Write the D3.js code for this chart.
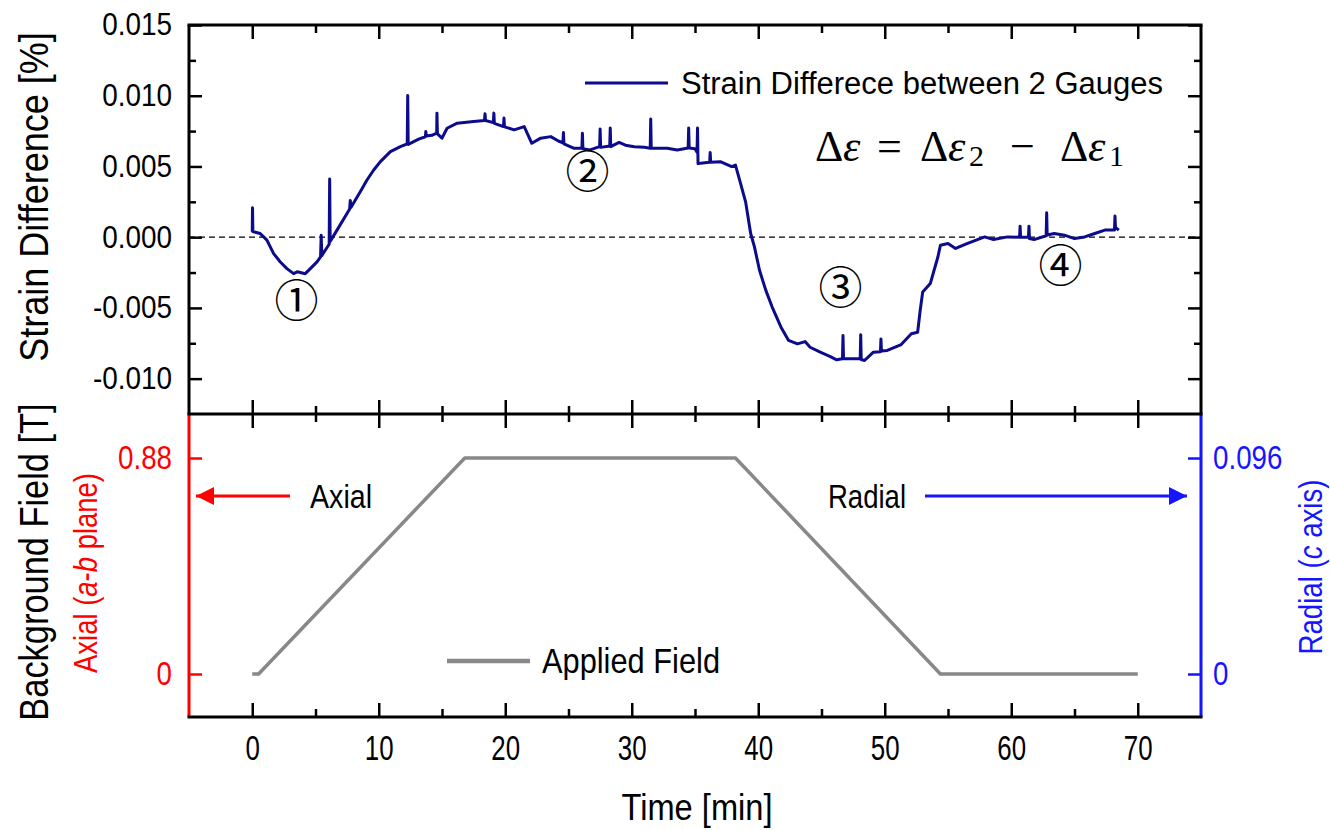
<!DOCTYPE html>
<html><head><meta charset="utf-8">
<script src="https://cdn.jsdelivr.net/npm/d3@7"></script>
<style>
html,body{margin:0;padding:0;background:#fff;}
svg{display:block;}
</style></head><body>
<svg id="c" width="1330" height="830"></svg>
<script>
// ---------------- DATA ----------------
// Strain difference (units of 0.001 %)
const strainTime = [0.00,0.02,0.05,0.63,1.16,1.69,2.22,2.74,3.27,3.55,3.80,4.19,4.59,5.12,5.40,5.45,5.50,5.77,6.08,6.12,6.16,6.70,7.49,7.70,7.75,7.80,8.54,9.07,9.60,10.13,10.92,11.71,12.25,12.29,12.33,12.76,13.20,13.69,13.72,13.76,14.20,14.58,14.60,14.64,15.00,15.40,16.20,17.50,18.36,18.40,18.44,19.06,19.10,19.14,19.86,19.90,19.94,20.70,21.50,22.10,22.80,23.60,24.20,24.56,24.60,24.64,25.40,26.06,26.10,26.14,26.70,27.46,27.50,27.54,28.26,28.30,28.34,29.00,29.50,30.20,31.00,31.46,31.50,31.54,32.80,33.60,34.46,34.50,34.54,35.00,35.16,35.20,35.24,35.60,36.16,36.20,36.24,37.00,37.90,38.20,38.60,39.00,39.40,39.70,40.10,40.60,41.10,41.80,42.40,43.10,43.70,44.10,44.90,45.70,46.20,46.66,46.70,46.74,47.30,48.06,48.10,48.14,48.40,49.10,49.66,49.70,49.74,50.20,51.30,52.10,52.60,52.80,53.00,53.60,53.90,54.20,54.40,55.00,55.60,56.50,57.90,58.60,59.70,60.66,60.70,60.74,61.36,61.40,61.44,61.80,62.76,62.80,62.84,63.40,64.20,65.00,65.80,66.60,67.40,68.16,68.20,68.24,68.50];
const strainValue = [0.38,2.08,0.40,0.26,-0.21,-1.16,-1.75,-2.22,-2.58,-2.45,-2.50,-2.58,-2.22,-1.75,-1.40,0.14,-1.30,-0.92,-0.50,4.11,-0.30,0.50,1.68,2.00,2.60,2.10,3.21,4.04,4.75,5.34,6.05,6.40,6.60,10.02,6.55,6.76,6.95,7.10,7.47,7.15,7.20,7.35,8.77,7.30,7.00,7.70,8.06,8.18,8.25,8.72,8.25,8.10,8.77,8.05,7.82,8.42,7.80,7.59,7.82,6.64,7.00,7.11,6.80,6.67,7.40,6.60,6.29,6.30,7.35,6.25,6.17,6.40,7.64,6.35,6.45,7.71,6.40,6.70,6.50,6.40,6.35,6.29,8.35,6.29,6.29,6.17,6.30,7.71,6.30,6.25,6.00,7.71,5.20,5.25,5.30,5.98,5.30,5.34,4.99,5.10,3.81,2.50,0.26,-0.69,-2.34,-3.76,-4.94,-6.36,-7.30,-7.54,-7.38,-7.78,-8.13,-8.44,-8.67,-8.60,-6.95,-8.60,-8.60,-8.60,-6.90,-8.65,-8.72,-8.13,-8.10,-7.19,-8.05,-8.01,-7.59,-6.83,-6.72,-5.18,-3.88,-3.28,-2.34,-1.40,-0.57,-0.45,-0.80,-0.45,0.02,-0.17,0.02,0.00,0.78,0.00,0.00,0.78,-0.10,-0.17,0.10,1.72,0.15,0.26,0.14,-0.10,0.02,0.26,0.50,0.50,1.49,0.70,0.50];

// Applied background field (T, axial scale)
const fieldTime  = [0, 0.5, 16.8, 38.2, 54.4, 70];
const fieldValue = [0, 0, 0.88, 0.88, 0, 0];

// Ticks
const xMajor = [0,10,20,30,40,50,60,70];
const xMinor = [5,15,25,35,45,55,65];
const yTopMajor = [-10,-5,0,5,10,15];
const yTopMinor = [-7.5,-2.5,2.5,7.5,12.5];
const yTopLabels = ["-0.010","-0.005","0.000","0.005","0.010","0.015"];
const axialTicks = [0, 0.88];
const axialLabels = ["0","0.88"];
const radialTicks = [0, 0.096];
const radialLabels = ["0","0.096"];
const annotations = [
  {label:"\u2460", t:3.5,  v:-4.3},
  {label:"\u2461", t:26.5, v:4.8},
  {label:"\u2462", t:46.5, v:-3.4},
  {label:"\u2463", t:63.9, v:-1.8}
];

// ---------------- CHART ----------------
const SANS = '"Liberation Sans",Arial,sans-serif';
const svg = d3.select("#c");

// horizontally condense a text element (keeps it real text)
function condense(node, factor) {
  const n = node.getComputedTextLength();
  node.setAttribute("textLength", (n * factor).toFixed(1));
  node.setAttribute("lengthAdjust", "spacingAndGlyphs");
}
function fitTo(node, width) {
  node.setAttribute("textLength", width);
  node.setAttribute("lengthAdjust", "spacingAndGlyphs");
}

const L = 189, R = 1201, T = 25, MID = 414, B = 717;
const x = d3.scaleLinear().domain([-5, 75]).range([L, R]);
const yTop = d3.scaleLinear().domain([-12.5, 15]).range([MID, T]);
const yAx = d3.scaleLinear().domain([-0.1752, 1.0593]).range([B, MID]);
const yRad = d3.scaleLinear().domain([-0.01911, 0.11556]).range([B, MID]);

function styleAxis(g, color, size, factor) {
  g.select(".domain").remove();
  g.selectAll(".tick line").attr("stroke", color).attr("stroke-width", 2.5);
  g.selectAll(".tick text").attr("fill", color).style("font-family", SANS).style("font-size", size + "px")
    .each(function () { if (factor && this.textContent) condense(this, factor); });
}

// top panel: left axis
const gl = svg.append("g").attr("transform", `translate(${L},0)`)
  .call(d3.axisLeft(yTop).tickValues(yTopMajor).tickSize(-13).tickPadding(17)
    .tickFormat((d, i) => yTopLabels[i]));
styleAxis(gl, "#000", 31, 0.9);
const glm = svg.append("g").attr("transform", `translate(${L},0)`)
  .call(d3.axisLeft(yTop).tickValues(yTopMinor).tickSize(-7).tickFormat(""));
styleAxis(glm, "#000", 10);
// top panel: right axis ticks
const gr = svg.append("g").attr("transform", `translate(${R},0)`)
  .call(d3.axisRight(yTop).tickValues(yTopMajor).tickSize(-13).tickFormat(""));
styleAxis(gr, "#000", 10);
const grm = svg.append("g").attr("transform", `translate(${R},0)`)
  .call(d3.axisRight(yTop).tickValues(yTopMinor).tickSize(-7).tickFormat(""));
styleAxis(grm, "#000", 10);

// x ticks on every horizontal edge
function xTicks(yPos, dir, withLabels) {
  const mk = dir === "down" ? d3.axisTop : d3.axisBottom;
  const g1 = svg.append("g").attr("transform", `translate(0,${yPos})`)
    .call(mk(x).tickValues(xMajor).tickSize(-14).tickPadding(18)
      .tickFormat(withLabels ? d3.format("d") : ""));
  styleAxis(g1, "#000", 35, 0.74);
  const g2 = svg.append("g").attr("transform", `translate(0,${yPos})`)
    .call(mk(x).tickValues(xMinor).tickSize(-8).tickFormat(""));
  styleAxis(g2, "#000", 10);
}
xTicks(T, "down", false);
xTicks(MID, "up", false);
xTicks(MID, "down", false);
xTicks(B, "up", true);

// bottom panel: left (axial, red) and right (radial, blue)
const gax = svg.append("g").attr("transform", `translate(${L},0)`)
  .call(d3.axisLeft(yAx).tickValues(axialTicks).tickSize(-13).tickPadding(17)
    .tickFormat((d, i) => axialLabels[i]));
styleAxis(gax, "#ff0000", 33, 0.84);
const grd = svg.append("g").attr("transform", `translate(${R},0)`)
  .call(d3.axisRight(yRad).tickValues(radialTicks).tickSize(-13).tickPadding(12)
    .tickFormat((d, i) => radialLabels[i]));
styleAxis(grd, "#1515ff", 33, 0.84);

// frame
function hline(y, c) { svg.append("line").attr("x1", L - 1.5).attr("x2", R + 1.5).attr("y1", y).attr("y2", y).attr("stroke", c).attr("stroke-width", 3); }
function vline(xp, y1, y2, c) { svg.append("line").attr("x1", xp).attr("x2", xp).attr("y1", y1).attr("y2", y2).attr("stroke", c).attr("stroke-width", 3); }
vline(L, T, MID, "#000");
vline(R, T, MID, "#000");
vline(L, MID, B, "#ff0000");
vline(R, MID, B, "#1515ff");
hline(T, "#000");
hline(MID, "#000");
hline(B, "#000");

// zero dashed line
svg.append("line").attr("x1", L).attr("x2", R).attr("y1", yTop(0)).attr("y2", yTop(0))
  .attr("stroke", "#000").attr("stroke-width", 1.3).attr("stroke-dasharray", "6,4");

// strain line
const strainData = strainTime.map((t, i) => [t, strainValue[i]]);
svg.append("path").datum(strainData)
  .attr("d", d3.line().x(d => x(d[0])).y(d => yTop(d[1])))
  .attr("fill", "none").attr("stroke", "#0b0b8c").attr("stroke-width", 3)
  .attr("stroke-linejoin", "round");

// applied field line
const fieldData = fieldTime.map((t, i) => [t, fieldValue[i]]);
svg.append("path").datum(fieldData)
  .attr("d", d3.line().x(d => x(d[0])).y(d => yAx(d[1])))
  .attr("fill", "none").attr("stroke", "#888888").attr("stroke-width", 3.5)
  .attr("stroke-linejoin", "round");

// legends
svg.append("line").attr("x1", 585).attr("x2", 668).attr("y1", 83).attr("y2", 83)
  .attr("stroke", "#0b0b8c").attr("stroke-width", 3);
svg.append("text").attr("x", 681).attr("y", 94).style("font-family", SANS).style("font-size", "31px")
  .attr("fill", "#000").text("Strain Differece between 2 Gauges")
  .each(function () { fitTo(this, 482); });
svg.append("line").attr("x1", 447).attr("x2", 530).attr("y1", 661).attr("y2", 661)
  .attr("stroke", "#888888").attr("stroke-width", 4.5);
svg.append("text").attr("x", 542).attr("y", 673).style("font-family", SANS).style("font-size", "35px")
  .attr("fill", "#000").text("Applied Field")
  .each(function () { fitTo(this, 178); });

// formula
const FS = '"Liberation Serif","Times New Roman",serif';
function ftext(xp, yp, str, size, italic) {
  svg.append("text").attr("x", xp).attr("y", yp).style("font-family", FS).style("font-size", size + "px")
    .style("font-style", italic ? "italic" : "normal").attr("fill", "#000").text(str);
}
ftext(815, 161, "\u0394", 44, false);
ftext(843, 161, "\u03b5", 44, true);
ftext(877, 161, "=", 44, false);
ftext(920, 161, "\u0394", 44, false);
ftext(948, 161, "\u03b5", 44, true);
ftext(969, 166, "2", 30, false);
ftext(1010, 161, "\u2212", 44, false);
ftext(1060, 161, "\u0394", 44, false);
ftext(1088, 161, "\u03b5", 44, true);
ftext(1109, 166, "1", 30, false);

// circled annotations
annotations.forEach(a => {
  svg.append("text").attr("x", x(a.t)).attr("y", yTop(a.v))
    .attr("text-anchor", "middle").attr("dominant-baseline", "central")
    .style("font-family", '"Noto Sans CJK JP","DejaVu Sans",sans-serif').style("font-size", "44px")
    .attr("fill", "#000").text(a.label);
});

// arrows
const defs = svg.append("defs");
function marker(id, color) {
  defs.append("marker").attr("id", id).attr("viewBox", "0 0 10 10").attr("refX", 10).attr("refY", 5)
    .attr("markerUnits", "userSpaceOnUse").attr("markerWidth", 26).attr("markerHeight", 18).attr("orient", "auto")
    .append("path").attr("d", "M0,0 L10,5 L0,10 Z").attr("fill", color);
}
marker("ah-red", "#ff0000");
marker("ah-blue", "#1515ff");
svg.append("line").attr("x1", 290).attr("x2", 196).attr("y1", 496).attr("y2", 496)
  .attr("stroke", "#ff0000").attr("stroke-width", 3).attr("marker-end", "url(#ah-red)");
svg.append("line").attr("x1", 925).attr("x2", 1187).attr("y1", 496).attr("y2", 496)
  .attr("stroke", "#1515ff").attr("stroke-width", 3).attr("marker-end", "url(#ah-blue)");
svg.append("text").attr("x", 310).attr("y", 508).style("font-family", SANS).style("font-size", "34px")
  .attr("fill", "#000").text("Axial").each(function () { fitTo(this, 62); });
svg.append("text").attr("x", 828).attr("y", 508).style("font-family", SANS).style("font-size", "34px")
  .attr("fill", "#000").text("Radial").each(function () { fitTo(this, 78); });

// axis titles (condensed with a scale transform along the reading direction)
svg.append("text").attr("transform", "translate(48,197) rotate(-90) scale(0.9,1)").attr("text-anchor", "middle")
  .style("font-family", SANS).style("font-size", "40px").attr("fill", "#000").text("Strain Difference [%]");
svg.append("text").attr("transform", "translate(48,562) rotate(-90) scale(0.86,1)").attr("text-anchor", "middle")
  .style("font-family", SANS).style("font-size", "40px").attr("fill", "#000").text("Background Field [T]");
const ax = svg.append("text").attr("transform", "translate(97,573) rotate(-90)").attr("text-anchor", "middle")
  .style("font-family", SANS).style("font-size", "34px").attr("fill", "#ff0000");
ax.append("tspan").text("Axial (");
ax.append("tspan").style("font-style", "italic").text("a");
ax.append("tspan").text("-");
ax.append("tspan").style("font-style", "italic").text("b");
ax.append("tspan").text(" plane)");
fitTo(ax.node(), 200);
const rd = svg.append("text").attr("transform", "translate(1322,567) rotate(-90)").attr("text-anchor", "middle")
  .style("font-family", SANS).style("font-size", "34px").attr("fill", "#1515ff");
rd.append("tspan").text("Radial (");
rd.append("tspan").style("font-style", "italic").text("c");
rd.append("tspan").text(" axis)");
fitTo(rd.node(), 175);
svg.append("text").attr("x", 697).attr("y", 820).attr("text-anchor", "middle")
  .style("font-family", SANS).style("font-size", "36px").attr("fill", "#000").text("Time [min]")
  .each(function () { fitTo(this, 151); });
</script></body></html>
